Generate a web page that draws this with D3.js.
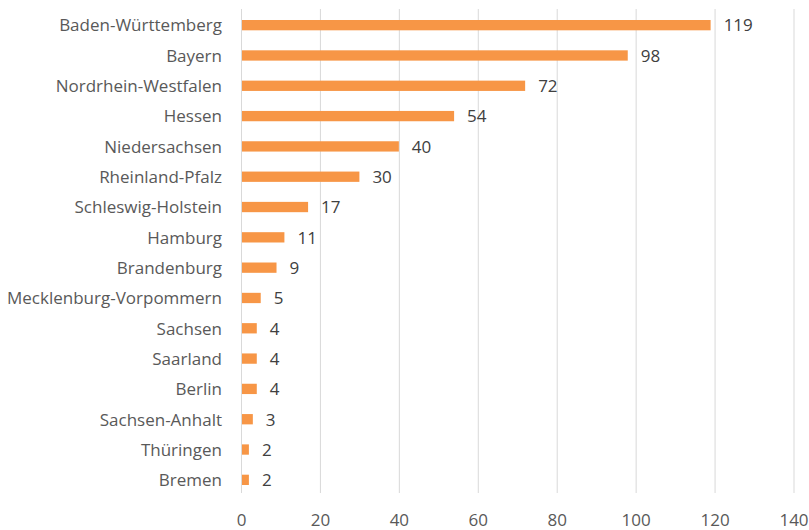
<!DOCTYPE html>
<html>
<head>
<meta charset="utf-8">
<script src="https://cdn.jsdelivr.net/npm/d3@7"></script>
<style>
  body { margin: 0; background: #fff; }
  svg text { font-family: "Open Sans", "Liberation Sans", sans-serif; }
</style>
</head>
<body>
<div id="chart"></div>
<script>
// data, largest first (as drawn from top to bottom)
const states = ["Baden-Württemberg", "Bayern", "Nordrhein-Westfalen", "Hessen", "Niedersachsen",
  "Rheinland-Pfalz", "Schleswig-Holstein", "Hamburg", "Brandenburg", "Mecklenburg-Vorpommern",
  "Sachsen", "Saarland", "Berlin", "Sachsen-Anhalt", "Thüringen", "Bremen"];
const counts = [119, 98, 72, 54, 40, 30, 17, 11, 9, 5, 4, 4, 4, 3, 2, 2];
const xTicks = [0, 20, 40, 60, 80, 100, 120, 140];

const data = states.map((s, i) => ({state: s, value: counts[i]}));

const width = 809, height = 530;
const margin = {top: 10, right: 15, bottom: 35, left: 241};
const w = width - margin.left - margin.right;
const h = height - margin.top - margin.bottom;

const svg = d3.select("#chart").append("svg")
  .attr("width", width)
  .attr("height", height)
  .append("g")
  .attr("transform", "translate(" + margin.left + "," + margin.top + ")");

const x = d3.scaleLinear().domain([0, 140]).range([0, 552.5]);
const y = d3.scaleBand().domain(states).range([0, h]).paddingInner(0.66).paddingOuter(0.33);

// vertical gridlines
svg.selectAll(".grid")
  .data(xTicks)
  .enter()
  .append("line")
  .attr("x1", d => x(d) + 0.5)
  .attr("x2", d => x(d) + 0.5)
  .attr("y1", -1)
  .attr("y2", h - 2)
  .attr("stroke", "#d9d9d9")
  .attr("stroke-width", 1);

// x axis labels
const xAxis = d3.axisBottom(x).tickValues(xTicks).tickSize(0).tickPadding(19);
svg.append("g")
  .attr("class", "x-axis")
  .attr("transform", "translate(0," + h + ")")
  .call(xAxis)
  .call(g => g.select(".domain").remove())
  .call(g => g.selectAll("text").attr("fill", "#595959").attr("font-size", "17px")
    .style("font-family", "'Open Sans', sans-serif"));

// y axis labels
const yAxis = d3.axisLeft(y).tickSize(0).tickPadding(19);
svg.append("g")
  .attr("class", "y-axis")
  .call(yAxis)
  .call(g => g.select(".domain").remove())
  .call(g => g.selectAll("text").attr("fill", "#595959").attr("font-size", "17px")
    .attr("dy", "0.37em")
    .style("font-family", "'Open Sans', sans-serif"));

// bars
svg.selectAll(".bar")
  .data(data)
  .enter()
  .append("rect")
  .attr("class", "bar")
  .attr("x", x(0) + 1)
  .attr("y", d => y(d.state))
  .attr("width", d => x(d.value) - x(0) - 1)
  .attr("height", y.bandwidth())
  .attr("fill", "#f79646");

// value labels
svg.selectAll(".label")
  .data(data)
  .enter()
  .append("text")
  .attr("class", "label")
  .attr("x", d => x(d.value) + 13)
  .attr("y", d => y(d.state) + y.bandwidth() / 2)
  .attr("dy", "0.37em")
  .attr("fill", "#404040")
  .attr("font-size", "17px")
  .text(d => d.value);
</script>
</body>
</html>
